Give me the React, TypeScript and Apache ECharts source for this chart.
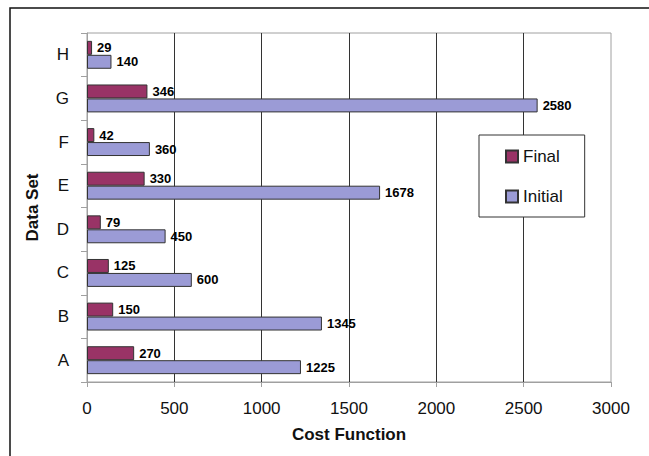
import React, { useEffect, useRef } from "react";
import * as echarts from "echarts";

const categories = ["A", "B", "C", "D", "E", "F", "G", "H"];
const finalCost = [270, 150, 125, 79, 330, 42, 346, 29];
const initialCost = [1225, 1345, 600, 450, 1678, 360, 2580, 140];
const xTicks = { min: 0, max: 3000, interval: 500 };

const FONT = 'Arial, "Liberation Sans", sans-serif';

export default function App() {
  const ref = useRef<HTMLDivElement>(null);

  useEffect(() => {
    document.body.style.margin = "0";
    const chart = echarts.init(ref.current!, null, { renderer: "svg" });
    const label = {
      show: true,
      position: "right" as const,
      distance: 5,
      fontFamily: FONT,
      fontSize: 13,
      fontWeight: "bold" as const,
      color: "#000",
    };
    chart.setOption({
      animation: false,
      backgroundColor: "#fff",
      textStyle: { fontFamily: FONT },
      graphic: [
        {
          type: "rect",
          shape: { x: 10, y: 8, width: 700, height: 500 },
          style: { fill: "none", stroke: "#111", lineWidth: 1.5 },
          silent: true,
          z: 100,
        },
      ],
      grid: {
        left: 87,
        top: 33,
        right: 38,
        bottom: 74,
        show: true,
        borderColor: "#a0a0a0",
        borderWidth: 1,
      },
      legend: {
        data: ["Final", "Initial"],
        orient: "vertical",
        left: 479,
        top: 135,
        padding: [13, 22, 12, 26],
        itemWidth: 12,
        itemHeight: 12,
        itemGap: 23,
        icon: "rect",
        backgroundColor: "#fff",
        borderColor: "#333",
        borderWidth: 1,
        textStyle: { fontFamily: FONT, fontSize: 17, color: "#111" },
      },
      xAxis: {
        type: "value",
        min: xTicks.min,
        max: xTicks.max,
        interval: xTicks.interval,
        name: "Cost Function",
        nameLocation: "middle",
        nameGap: 44,
        nameTextStyle: { fontFamily: FONT, fontSize: 17, fontWeight: "bold", color: "#111" },
        axisLine: { show: true, lineStyle: { color: "#a0a0a0" } },
        axisTick: { show: true, length: 5, lineStyle: { color: "#a0a0a0" } },
        axisLabel: {
          margin: 18,
          fontFamily: FONT,
          fontSize: 17,
          color: "#111",
          formatter: (v: number) => String(v),
        },
        splitLine: {
          show: true,
          showMinLine: false,
          showMaxLine: false,
          lineStyle: { color: "#333", width: 1 },
        },
      },
      yAxis: {
        type: "category",
        data: categories,
        name: "Data Set",
        nameLocation: "middle",
        nameGap: 46,
        nameRotate: 90,
        nameTextStyle: { fontFamily: FONT, fontSize: 17, fontWeight: "bold", color: "#111" },
        axisLine: { show: true, lineStyle: { color: "#a0a0a0" } },
        axisTick: { show: true, length: 6, lineStyle: { color: "#a0a0a0" } },
        axisLabel: { margin: 18, fontFamily: FONT, fontSize: 17, color: "#111" },
        splitLine: { show: false },
      },
      series: [
        {
          name: "Final",
          type: "bar",
          data: finalCost,
          barGap: "0%",
          barCategoryGap: "36%",
          itemStyle: { color: "#993366", borderColor: "#333", borderWidth: 1 },
          label,
        },
        {
          name: "Initial",
          type: "bar",
          data: initialCost,
          barGap: "0%",
          barCategoryGap: "36%",
          itemStyle: { color: "#9b9bd6", borderColor: "#333", borderWidth: 1 },
          label,
        },
      ],
    });
    return () => chart.dispose();
  }, []);

  return <div ref={ref} style={{ width: 649, height: 456 }} />;
}
